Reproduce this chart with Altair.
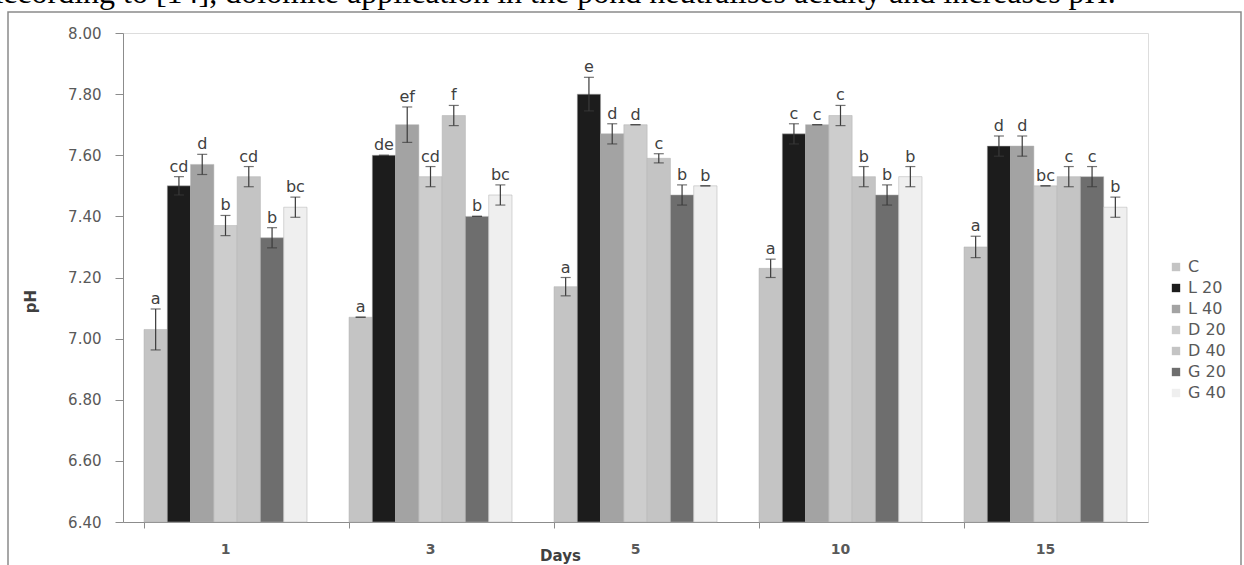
import altair as alt
import pandas as pd

days = ["1", "3", "5", "10", "15"]
treatments = ["C", "L 20", "L 40", "D 20", "D 40", "G 20", "G 40"]
colors = ["#c4c4c4", "#1c1c1c", "#a3a3a3", "#cdcdcd", "#c4c4c4", "#6e6e6e", "#efefef"]

# mean pH per treatment, one value per day
ph_C = [7.03, 7.07, 7.17, 7.23, 7.30]
ph_L20 = [7.50, 7.60, 7.80, 7.67, 7.63]
ph_L40 = [7.57, 7.70, 7.67, 7.70, 7.63]
ph_D20 = [7.37, 7.53, 7.70, 7.73, 7.50]
ph_D40 = [7.53, 7.73, 7.59, 7.53, 7.53]
ph_G20 = [7.33, 7.40, 7.47, 7.47, 7.53]
ph_G40 = [7.43, 7.47, 7.50, 7.53, 7.43]

# standard errors
se_C = [0.067, 0.0, 0.03, 0.03, 0.035]
se_L20 = [0.03, 0.0, 0.055, 0.033, 0.033]
se_L40 = [0.033, 0.058, 0.033, 0.0, 0.033]
se_D20 = [0.033, 0.033, 0.0, 0.033, 0.0]
se_D40 = [0.033, 0.033, 0.015, 0.033, 0.033]
se_G20 = [0.033, 0.0, 0.033, 0.033, 0.033]
se_G40 = [0.033, 0.033, 0.0, 0.033, 0.033]

# significance letters
let_C = ["a", "a", "a", "a", "a"]
let_L20 = ["cd", "de", "e", "c", "d"]
let_L40 = ["d", "ef", "d", "c", "d"]
let_D20 = ["b", "cd", "d", "c", "bc"]
let_D40 = ["cd", "f", "c", "b", "c"]
let_G20 = ["b", "b", "b", "b", "c"]
let_G40 = ["bc", "bc", "b", "b", "b"]

sentence = "According to [14], dolomite application in the pond neutralises acidity and increases pH."

means = [ph_C, ph_L20, ph_L40, ph_D20, ph_D40, ph_G20, ph_G40]
errs = [se_C, se_L20, se_L40, se_D20, se_D40, se_G20, se_G40]
lets = [let_C, let_L20, let_L40, let_D20, let_D40, let_G20, let_G40]

rows = []
for t, m, e, l in zip(treatments, means, errs, lets):
    for d, mv, ev, lv in zip(days, m, e, l):
        rows.append({"day": d, "treatment": t, "mean": mv, "lo": mv - ev,
                     "hi": mv + ev, "letter": lv})
df = pd.DataFrame(rows)

AX = "#8c8c8c"
LBL = "#595959"

x = alt.X("day:N", sort=days,
          scale=alt.Scale(paddingInner=0.205, paddingOuter=0.1025),
          axis=alt.Axis(title="Days", titleFontSize=15, titleFont="DejaVu Sans",
                        titleFontWeight="bold", titleColor="#404040",
                        titleX=437, titleY=38, titleBaseline="alphabetic",
                        labelFontSize=14, labelFont="DejaVu Sans", labelFontWeight="bold",
                        labelColor=LBL, labelPadding=14, labelAngle=0,
                        domainColor=AX, tickColor=AX, tickSize=6, bandPosition=0))
xo = alt.XOffset("treatment:N", sort=treatments,
                 scale=alt.Scale(paddingInner=0, paddingOuter=0))
yscale = alt.Scale(domain=[6.4, 8.0], zero=False, nice=False)

base = alt.Chart(df)

bars = base.mark_bar(stroke="#b0b0b0", strokeWidth=0.5).encode(
    x=x, xOffset=xo,
    y=alt.Y("mean:Q", scale=yscale,
            axis=alt.Axis(title="pH", titleFontSize=15, titleFont="DejaVu Sans",
                          titleFontWeight="bold", titleColor="#404040",
                          titleAngle=-90, titleX=-93, titleY=268,
                          titleAlign="center", titleBaseline="middle",
                          values=[6.4, 6.6, 6.8, 7.0, 7.2, 7.4, 7.6, 7.8, 8.0],
                          format=".2f", labelFontSize=15, labelFont="DejaVu Sans",
                          labelColor=LBL, labelPadding=14, grid=False,
                          domainColor=AX, tickColor=AX, tickSize=8)),
    y2=alt.datum(6.4),
    color=alt.Color("treatment:N", sort=treatments,
                    scale=alt.Scale(domain=treatments, range=colors),
                    legend=alt.Legend(title=None, orient="none", legendX=1045, legendY=226,
                                      symbolType="square", symbolSize=70,
                                      symbolStrokeWidth=0, labelFontSize=16,
                                      labelFont="DejaVu Sans", labelColor=LBL,
                                      rowPadding=5)),
)

rules = base.mark_rule(color="#3a3a3a", strokeWidth=1.2).encode(
    x=x, xOffset=xo, y=alt.Y("lo:Q", scale=yscale), y2="hi:Q")
cap_lo = base.mark_tick(orient="horizontal", size=10, thickness=1.2, color="#3a3a3a").encode(
    x=x, xOffset=xo, y=alt.Y("lo:Q", scale=yscale))
cap_hi = base.mark_tick(orient="horizontal", size=10, thickness=1.2, color="#3a3a3a").encode(
    x=x, xOffset=xo, y=alt.Y("hi:Q", scale=yscale))
letters = base.mark_text(baseline="bottom", dy=-2, fontSize=16, font="DejaVu Sans",
                         color="#404040").encode(
    x=x, xOffset=xo, y=alt.Y("hi:Q", scale=yscale), text="letter:N")

frame = alt.Chart(pd.DataFrame({"f": [0]})).mark_rect(
    fillOpacity=0, stroke="#8a8a8a", strokeWidth=1.5).encode(
    x=alt.value(-115), x2=alt.value(1118), y=alt.value(-21), y2=alt.value(545))

top = alt.Chart(pd.DataFrame({"t": [sentence]})).mark_text(
    align="left", baseline="alphabetic", fontSize=32, font="Liberation Serif",
    color="black").encode(x=alt.value(-143), y=alt.value(-30), text="t:N")

chart = alt.layer(frame, bars, rules, cap_lo, cap_hi, letters, top).properties(
    width=1025, height=489,
    autosize=alt.AutoSizeParams(type="none"),
    padding={"left": 123, "top": 33, "right": 96, "bottom": 43},
).configure_view(stroke=None).configure(background="white")

chart.save("out.html", embed_options={"renderer": "svg", "actions": False})
